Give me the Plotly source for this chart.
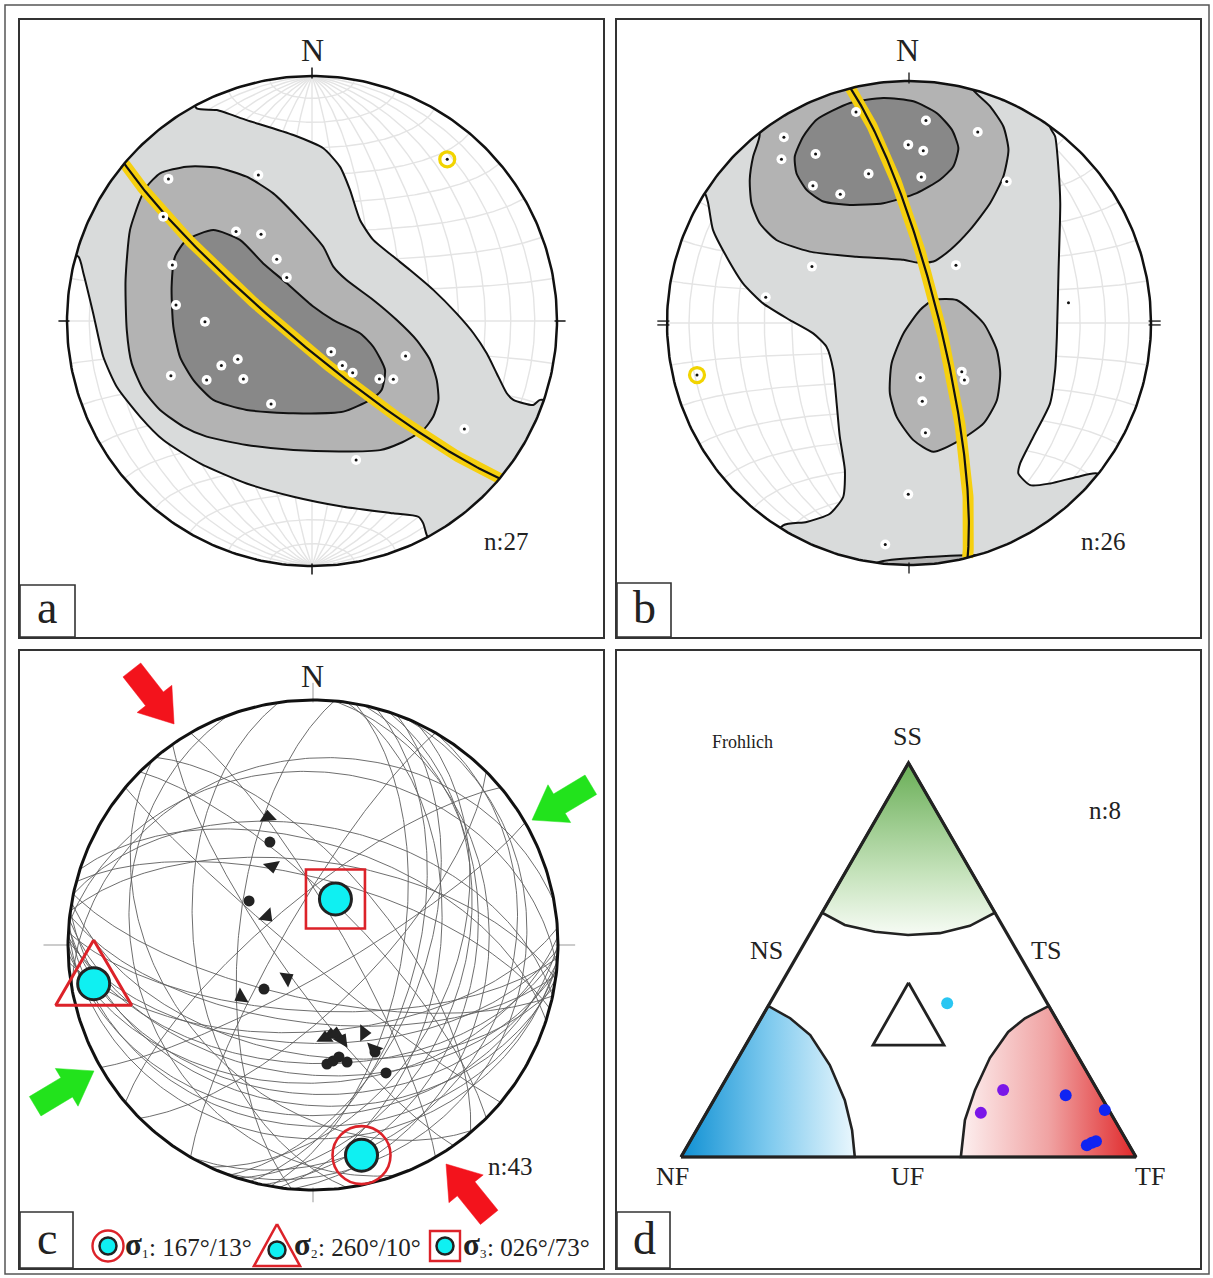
import numpy as np
import plotly.graph_objects as go

W, H = 1213, 1278
SERIF = "Liberation Serif"

# ====================== DATA ======================
# Net coordinates: equal-area, lower hemisphere, (east, north), primitive radius = 1

# ---- (a) ----
a_pole_e = [-0.586, -0.219, -0.607, -0.310, -0.208, -0.144, -0.570, -0.103, -0.555, -0.437, 0.078, 0.382,
            -0.303, -0.370, 0.124, 0.166, -0.576, -0.430, -0.280, 0.275, 0.332, -0.167, 0.622, 0.180]
a_pole_n = [0.580, 0.596, 0.426, 0.365, 0.354, 0.252, 0.229, 0.178, 0.065, -0.003, -0.125, -0.143,
            -0.156, -0.182, -0.182, -0.211, -0.223, -0.241, -0.237, -0.237, -0.238, -0.339, -0.441, -0.567]
a_max_e = [0.552]
a_max_n = [0.660]
a_plane_dipdir = [220]
a_plane_dip = [82]
a_contour1 = [(-0.52, 0.96), (-0.471, 0.868), (-0.389, 0.861), (-0.267, 0.820), (-0.076, 0.759), (0.046, 0.705),
              (0.114, 0.630), (0.155, 0.535), (0.196, 0.412), (0.250, 0.331), (0.332, 0.263), (0.400, 0.208),
              (0.495, 0.127), (0.590, 0.031), (0.659, -0.050), (0.713, -0.132), (0.754, -0.214), (0.795, -0.295),
              (0.822, -0.322), (0.903, -0.343), (0.931, -0.322), (1.06, -0.36), (0.86, -0.72), (0.53, -0.98),
              (0.468, -0.873), (0.454, -0.826), (0.434, -0.799), (0.332, -0.785), (0.128, -0.758), (-0.076, -0.717),
              (-0.267, -0.663), (-0.457, -0.581), (-0.607, -0.486), (-0.702, -0.390), (-0.797, -0.268),
              (-0.852, -0.146), (-0.893, 0.031), (-0.933, 0.195), (-0.954, 0.263), (-1.07, 0.30), (-0.95, 0.62),
              (-0.75, 0.87), (-0.52, 0.96)]
a_contour2 = [(-0.675, 0.548), (-0.620, 0.603), (-0.512, 0.630), (-0.389, 0.627), (-0.267, 0.589), (-0.158, 0.521),
              (-0.049, 0.412), (0.046, 0.303), (0.087, 0.222), (0.141, 0.167), (0.250, 0.086), (0.346, 0.004),
              (0.427, -0.078), (0.482, -0.159), (0.509, -0.241), (0.516, -0.322), (0.495, -0.390), (0.454, -0.445),
              (0.359, -0.499), (0.278, -0.527), (0.128, -0.533), (-0.076, -0.527), (-0.267, -0.506), (-0.430, -0.472),
              (-0.525, -0.431), (-0.620, -0.363), (-0.688, -0.282), (-0.736, -0.173), (-0.756, -0.037),
              (-0.761, 0.167), (-0.743, 0.371), (-0.702, 0.494), (-0.675, 0.548)]
a_contour3 = [(-0.512, 0.331), (-0.403, 0.371), (-0.294, 0.331), (-0.199, 0.235), (-0.103, 0.154), (0.005, 0.059),
              (0.087, 0.004), (0.196, -0.050), (0.250, -0.105), (0.298, -0.200), (0.284, -0.282), (0.237, -0.322),
              (0.128, -0.370), (-0.076, -0.377), (-0.267, -0.363), (-0.403, -0.322), (-0.484, -0.241),
              (-0.539, -0.146), (-0.566, -0.023), (-0.573, 0.140), (-0.559, 0.263), (-0.512, 0.331)]

# ---- (b) ----
b_pole_e = [-0.219, 0.070, -0.517, 0.284, -0.003, 0.059, -0.386, -0.527, -0.167, 0.051, 0.404, -0.397,
            -0.284, -0.401, 0.194, -0.592, 0.218, 0.229, 0.047, 0.055, 0.068, -0.003, -0.098]
b_pole_n = [0.872, 0.837, 0.768, 0.789, 0.737, 0.712, 0.698, 0.677, 0.617, 0.603, 0.585, 0.567,
            0.532, 0.233, 0.239, 0.106, -0.201, -0.236, -0.225, -0.323, -0.454, -0.708, -0.915]
b_small_e = [0.659]
b_small_n = [0.084]
b_max_e = [-0.876]
b_max_n = [-0.215]
b_plane_dipdir = [76]
b_plane_dip = [80]
b_contour1 = [(-0.844, 0.537), (-0.970, 0.618), (-0.575, 0.996), (0.0, 1.15), (0.575, 0.996), (0.671, 0.934),
              (0.583, 0.812), (0.604, 0.771), (0.618, 0.633), (0.625, 0.495), (0.618, 0.219), (0.611, -0.057),
              (0.604, -0.194), (0.583, -0.332), (0.514, -0.470), (0.459, -0.581), (0.452, -0.622), (0.501, -0.670),
              (0.583, -0.663), (0.694, -0.636), (0.777, -0.622), (0.898, -0.719), (0.575, -0.996), (0.0, -1.15),
              (-0.609, -0.975), (-0.520, -0.836), (-0.423, -0.822), (-0.327, -0.788), (-0.272, -0.719),
              (-0.265, -0.608), (-0.286, -0.470), (-0.299, -0.332), (-0.313, -0.194), (-0.341, -0.098),
              (-0.396, -0.043), (-0.492, 0.012), (-0.603, 0.081), (-0.686, 0.164), (-0.754, 0.274),
              (-0.810, 0.385), (-0.830, 0.495), (-0.844, 0.537)]
b_contour2a = [(-0.668, 0.936), (-0.617, 0.778), (-0.644, 0.688), (-0.658, 0.592), (-0.651, 0.495), (-0.617, 0.412),
               (-0.548, 0.343), (-0.410, 0.295), (-0.217, 0.274), (-0.023, 0.261), (0.032, 0.250), (0.101, 0.254),
               (0.170, 0.302), (0.252, 0.385), (0.335, 0.495), (0.390, 0.606), (0.411, 0.716), (0.390, 0.812),
               (0.335, 0.895), (0.252, 0.981), (0.286, 1.114), (0.0, 1.15), (-0.393, 1.081), (-0.668, 0.936)]
b_contour2b = [(0.101, 0.095), (0.197, 0.095), (0.308, -0.001), (0.363, -0.112), (0.377, -0.208), (0.363, -0.319),
               (0.308, -0.415), (0.211, -0.484), (0.101, -0.532), (0.018, -0.484), (-0.051, -0.388),
               (-0.079, -0.291), (-0.072, -0.167), (-0.023, -0.043), (0.046, 0.054), (0.101, 0.095)]
b_contour2c = [(-0.20, -1.10), (-0.134, -0.992), (0.032, -0.970), (0.239, -0.960), (0.377, -0.967), (0.45, -1.10),
               (-0.20, -1.10)]
b_contour3 = [(-0.382, 0.840), (-0.244, 0.909), (-0.106, 0.930), (0.018, 0.916), (0.114, 0.868), (0.177, 0.799),
              (0.204, 0.723), (0.183, 0.647), (0.128, 0.592), (0.032, 0.537), (-0.106, 0.495), (-0.244, 0.488),
              (-0.354, 0.502), (-0.423, 0.550), (-0.465, 0.619), (-0.472, 0.688), (-0.437, 0.771), (-0.382, 0.840)]

# ---- (c) ----
c_plane_dipdir = [183, 185, 180, 188, 184, 178, 186, 182, 190, 181, 176, 187, 183, 192,
                  350, 5, 12, 18, 8, 15,
                  100, 105, 110, 98, 115, 108, 95, 120, 112, 102,
                  262, 229, 250, 275,
                  60, 45, 235, 220, 50,
                  320, 300, 135, 150]
c_plane_dip = [22, 27, 31, 35, 39, 43, 46, 50, 53, 57, 61, 64, 68, 72,
               25, 30, 50, 56, 62, 68,
               60, 55, 52, 47, 42, 38, 29, 21, 15, 34,
               50, 40, 28, 65,
               80, 75, 78, 85, 65,
               75, 80, 70, 80]
c_sigma_trend = [167, 260, 26]
c_sigma_plunge = [13, 10, 73]
c_sigma_label = [": 167°/13°", ": 260°/10°", ": 026°/73°"]
c_dot_e = [-0.176, -0.261, -0.200, 0.057, 0.082, 0.106, 0.139, 0.253, 0.298]
c_dot_n = [0.420, 0.180, -0.180, -0.486, -0.473, -0.457, -0.478, -0.437, -0.522]
c_slip_e = [-0.184, -0.167, -0.188, -0.294, -0.106, 0.049, 0.073, 0.094, 0.118, 0.208, 0.249]
c_slip_n = [0.522, 0.322, 0.118, -0.212, -0.135, -0.380, -0.367, -0.363, -0.388, -0.359, -0.424]
c_slip_dir = [-5, 170, 135, 240, 60, 0, 0, 5, 30, 90, 200]
c_arrow_tip_e = [-0.567, 0.543, 0.894, -0.894]
c_arrow_tip_n = [0.902, -0.894, 0.510, -0.514]
c_arrow_trend = [142, 321, 239, 59]
c_arrow_color = ["#f3131c", "#f3131c", "#22e31c", "#22e31c"]

# ---- (d) Frohlich ternary: fractions (SS, TF, NF) ----
d_ss = [0.39, 0.170, 0.112, 0.157, 0.119, 0.030, 0.036, 0.040]
d_tf = [0.39, 0.623, 0.603, 0.767, 0.872, 0.877, 0.885, 0.892]
d_color = ["#2ac6f2", "#7a17e8", "#7a17e8", "#1024f2", "#1024f2", "#1024f2", "#1024f2", "#1024f2"]
# field boundaries (triangle units: NF=(0,0), TF=(1,0), SS=(0.5,0.866))
d_ss_field = [(0.5, 0.866), (0.310, 0.537), (0.360, 0.510), (0.426, 0.495), (0.499, 0.488), (0.569, 0.492),
              (0.635, 0.508), (0.690, 0.537), (0.5, 0.866)]
d_nf_field = [(0.0, 0.0), (0.1917, 0.332), (0.240, 0.305), (0.284, 0.268), (0.327, 0.202), (0.360, 0.125),
              (0.376, 0.059), (0.382, 0.0), (0.0, 0.0)]
d_tf_field = [(1.0, 0.0), (0.8085, 0.332), (0.756, 0.305), (0.719, 0.275), (0.679, 0.218), (0.646, 0.147),
              (0.624, 0.081), (0.615, 0.0), (1.0, 0.0)]
d_center_tri = [(0.5, 0.383), (0.422, 0.246), (0.578, 0.246), (0.5, 0.383)]

# ====================== LAYOUT CONSTANTS (pixels) ======================
panels = {
    "a": dict(box=(20, 20, 603, 637), c=(312, 321), r=245),
    "b": dict(box=(617, 20, 1200, 637), c=(909, 323), r=242),
    "c": dict(box=(20, 651, 603, 1268), c=(313, 945), r=245),
    "d": dict(box=(617, 651, 1200, 1268), c=(681, 1157), r=455),
}
axis_ids = {"a": "", "b": "2", "c": "3", "d": "4"}


def P(px, py):
    return px / W, 1 - py / H


# ====================== HELPERS ======================
def proj_line(trend, plunge):
    t = np.radians(np.asarray(trend, float))
    p = np.radians(np.asarray(plunge, float))
    R = np.sqrt(2) * np.sin((np.pi / 2 - p) / 2)
    return R * np.sin(t), R * np.cos(t)


def great_circle(dipdir, dip, n=181):
    dd, d = np.radians(dipdir), np.radians(dip)
    st = dd - np.pi / 2
    s = np.array([np.sin(st), np.cos(st), 0.0])
    dv = np.array([np.sin(dd) * np.cos(d), np.cos(dd) * np.cos(d), -np.sin(d)])
    b = np.linspace(0, np.pi, n)
    v = np.outer(np.cos(b), s) + np.outer(np.sin(b), dv)
    k = 1 / np.sqrt(1 - v[:, 2])
    return v[:, 0] * k, v[:, 1] * k


def small_circle_ns(alpha, n=181):
    a = np.radians(alpha)
    phi = np.linspace(0, np.pi, n)
    x = np.sin(a) * np.cos(phi)
    y = np.full_like(phi, np.cos(a))
    z = -np.sin(a) * np.sin(phi)
    k = 1 / np.sqrt(1 - z)
    return x * k, y * k


def join(segs):
    xs, ys = [], []
    for x, y in segs:
        xs += list(x) + [None]
        ys += list(y) + [None]
    return xs, ys


def unzip(pts):
    return [p[0] for p in pts], [p[1] for p in pts]


def ranges(key):
    p = panels[key]
    x0, y0, x1, y1 = p["box"]
    cx, cy = p["c"]
    r = p["r"]
    return [(x0 - cx) / r, (x1 - cx) / r], [(cy - y1) / r, (cy - y0) / r]


fig = go.Figure()


def add(tr, key):
    s = axis_ids[key]
    tr.update(xaxis="x" + s, yaxis="y" + s, showlegend=False, hoverinfo="skip")
    fig.add_trace(tr)


th = np.linspace(0, 2 * np.pi, 361)
circ_x, circ_y = np.cos(th), np.sin(th)


def net_grid(key):
    segs = []
    for d in range(10, 90, 10):
        segs.append(great_circle(90, d))
        segs.append(great_circle(270, d))
    segs.append(great_circle(90, 90))
    for a in range(10, 180, 10):
        segs.append(small_circle_ns(a))
    gx, gy = join(segs)
    add(go.Scatter(x=gx, y=gy, mode="lines", line=dict(color="#e4e4e4", width=1.4)), key)


def mask(key):
    xr, yr = ranges(key)
    rx = [xr[0], xr[0], xr[1], xr[1], xr[0]]
    ry = [yr[0], yr[1], yr[1], yr[0], yr[0]]
    mx = rx + [1.0] + list(circ_x) + [xr[0]]
    my = ry + [0.0] + list(circ_y) + [yr[0]]
    add(go.Scatter(x=mx, y=my, mode="lines", fill="toself", fillcolor="white",
                   line=dict(width=0, color="white")), key)


def contour(pts, color, key):
    x, y = unzip(pts)
    add(go.Scatter(x=x, y=y, mode="lines", fill="toself", fillcolor=color,
                   line=dict(color="#111", width=2, shape="spline", smoothing=0.6)), key)


def primitive(key, width=2.5):
    add(go.Scatter(x=circ_x, y=circ_y, mode="lines", line=dict(color="#111", width=width)), key)


def ticks(key, segs, color, width):
    tx, ty = join(segs)
    add(go.Scatter(x=tx, y=ty, mode="lines", line=dict(color=color, width=width)), key)


def fault_plane(dipdir, dip, key):
    gx, gy = great_circle(dipdir, dip)
    add(go.Scatter(x=gx, y=gy, mode="lines", line=dict(color="#f6d00f", width=11)), key)
    add(go.Scatter(x=gx, y=gy, mode="lines", line=dict(color="#111", width=2.2)), key)


def poles(e, n, key):
    add(go.Scatter(x=e, y=n, mode="markers", marker=dict(color="white", size=10, line=dict(width=0))), key)
    add(go.Scatter(x=e, y=n, mode="markers", marker=dict(color="#111", size=3)), key)


def maxpole(e, n, key):
    add(go.Scatter(x=e, y=n, mode="markers",
                   marker=dict(symbol="circle-open", color="#f2d400", size=15, line=dict(width=3.2))), key)
    add(go.Scatter(x=e, y=n, mode="markers", marker=dict(color="#111", size=3)), key)


# ---------------- panel a ----------------
net_grid("a")
contour(a_contour1, "#d9dbdb", "a")
contour(a_contour2, "#b3b3b3", "a")
contour(a_contour3, "#888888", "a")
mask("a")
fault_plane(a_plane_dipdir[0], a_plane_dip[0], "a")
poles(a_pole_e, a_pole_n, "a")
maxpole(a_max_e, a_max_n, "a")
primitive("a")
ticks("a", [([0, 0], [0.99, 1.035]), ([0, 0], [-0.99, -1.035]),
            ([0.99, 1.035], [0, 0]), ([-0.99, -1.035], [0, 0])], "#111", 1.5)

# ---------------- panel b ----------------
net_grid("b")
contour(b_contour1, "#d9dbdb", "b")
contour(b_contour2a, "#b3b3b3", "b")
contour(b_contour2b, "#b3b3b3", "b")
contour(b_contour2c, "#b3b3b3", "b")
contour(b_contour3, "#888888", "b")
mask("b")
fault_plane(b_plane_dipdir[0], b_plane_dip[0], "b")
poles(b_pole_e, b_pole_n, "b")
add(go.Scatter(x=b_small_e, y=b_small_n, mode="markers", marker=dict(color="#111", size=3)), "b")
maxpole(b_max_e, b_max_n, "b")
primitive("b")
ticks("b", [([0, 0], [0.99, 1.035]), ([0, 0], [-0.99, -1.035]),
            ([0.99, 1.04], [0.008, 0.008]), ([0.99, 1.04], [-0.008, -0.008]),
            ([-0.99, -1.04], [0.008, 0.008]), ([-0.99, -1.04], [-0.008, -0.008])], "#111", 1.3)

# ---------------- panel c ----------------
gc = [great_circle(dd, dp) for dd, dp in zip(c_plane_dipdir, c_plane_dip)]
gx, gy = join(gc)
add(go.Scatter(x=gx, y=gy, mode="lines", line=dict(color="#5e5e5e", width=0.9)), "c")
ticks("c", [([0, 0], [0.99, 1.07]), ([0, 0], [-0.99, -1.05]),
            ([0.99, 1.07], [0, 0]), ([-0.99, -1.1], [0, 0])], "#999", 1)
primitive("c", width=3)
add(go.Scatter(x=c_dot_e, y=c_dot_n, mode="markers", marker=dict(color="#222", size=11)), "c")
add(go.Scatter(x=c_slip_e, y=c_slip_n, mode="markers",
               marker=dict(symbol="triangle-up", color="#222", size=15, angle=c_slip_dir)), "c")

sx, sy = proj_line(c_sigma_trend, c_sigma_plunge)
RED = "#dc2229"
CYAN = "#0ff0f2"
add(go.Scatter(x=[sx[0]], y=[sy[0]], mode="markers",
               marker=dict(symbol="circle-open", size=58, color=RED, line=dict(width=2.6))), "c")
add(go.Scatter(x=[sx[1], sx[1] - 0.155, sx[1] + 0.155, sx[1]],
               y=[sy[1] + 0.178, sy[1] - 0.088, sy[1] - 0.088, sy[1] + 0.178],
               mode="lines", line=dict(color=RED, width=3)), "c")
add(go.Scatter(x=[sx[2]], y=[sy[2]], mode="markers",
               marker=dict(symbol="square-open", size=59, color=RED, line=dict(width=2.6))), "c")
add(go.Scatter(x=list(sx), y=list(sy), mode="markers",
               marker=dict(color=CYAN, size=32, line=dict(color="#222", width=3))), "c")

for tx, ty, tr, col in zip(c_arrow_tip_e, c_arrow_tip_n, c_arrow_trend, c_arrow_color):
    u = np.array([np.sin(np.radians(tr)), np.cos(np.radians(tr))])
    v = np.array([-u[1], u[0]])
    T = np.array([tx, ty])
    L, hl, hw, sw = 0.28, 0.13, 0.09, 0.046
    pts = [T, T - hl * u + hw * v, T - hl * u + sw * v, T - L * u + sw * v,
           T - L * u - sw * v, T - hl * u - sw * v, T - hl * u - hw * v, T]
    add(go.Scatter(x=[p[0] for p in pts], y=[p[1] for p in pts], mode="lines", fill="toself",
                   fillcolor=col, line=dict(color=col, width=0.5)), "c")

pc = panels["c"]


def to_c(px, py):
    return (px - pc["c"][0]) / pc["r"], (pc["c"][1] - py) / pc["r"]


l1 = to_c(108, 1246)
l2 = to_c(277, 1250)
l3 = to_c(445, 1246)
add(go.Scatter(x=[l1[0]], y=[l1[1]], mode="markers",
               marker=dict(symbol="circle-open", size=31, color=RED, line=dict(width=2.4))), "c")
tri = [to_c(277, 1224), to_c(254, 1266), to_c(300, 1266), to_c(277, 1224)]
add(go.Scatter(x=[t[0] for t in tri], y=[t[1] for t in tri], mode="lines",
               line=dict(color=RED, width=2.6)), "c")
add(go.Scatter(x=[l3[0]], y=[l3[1]], mode="markers",
               marker=dict(symbol="square-open", size=30, color=RED, line=dict(width=2.4))), "c")
add(go.Scatter(x=[l1[0], l2[0], l3[0]], y=[l1[1], l2[1], l3[1]], mode="markers",
               marker=dict(color=CYAN, size=17, line=dict(color="#222", width=2.5))), "c")


# ---------------- panel d ----------------
def field(pts, gtype, start, stop, cs):
    x, y = unzip(pts)
    add(go.Scatter(x=x, y=y, mode="lines", fill="toself",
                   fillgradient=dict(type=gtype, start=start, stop=stop, colorscale=cs),
                   line=dict(color="#222", width=2.6)), "d")


field(d_ss_field, "vertical", 0.49, 0.866, [[0, "#f6fbf4"], [0.35, "#c6e3bc"], [1, "#69ae56"]])
field(d_nf_field, "horizontal", 0.0, 0.382, [[0, "#0f90d3"], [0.5, "#7dc9ee"], [1, "#eaf7fd"]])
field(d_tf_field, "horizontal", 0.615, 1.0, [[0, "#fdf0f0"], [0.5, "#f0a3a3"], [1, "#e0282a"]])
h = np.sqrt(3) / 2
add(go.Scatter(x=[0, 1, 0.5, 0], y=[0, 0, h, 0], mode="lines", line=dict(color="#222", width=3.2)), "d")
ctx, cty = unzip(d_center_tri)
add(go.Scatter(x=ctx, y=cty, mode="lines", line=dict(color="#222", width=2.8)), "d")
dx = [tf + ss / 2 for ss, tf in zip(d_ss, d_tf)]
dy = [ss * h for ss in d_ss]
add(go.Scatter(x=dx, y=dy, mode="markers", marker=dict(color=d_color, size=12)), "d")

# ====================== AXES ======================
layout_axes = {}
for key, s in axis_ids.items():
    x0, y0, x1, y1 = panels[key]["box"]
    xr, yr = ranges(key)
    common = dict(showgrid=False, zeroline=False, showticklabels=False, ticks="",
                  showline=True, mirror=True, linecolor="#333", linewidth=1.6, fixedrange=True)
    layout_axes["xaxis" + s] = dict(domain=[x0 / W, x1 / W], range=xr, anchor="y" + s, **common)
    layout_axes["yaxis" + s] = dict(domain=[1 - y1 / H, 1 - y0 / H], range=yr, anchor="x" + s, **common)

fig.update_layout(width=W, height=H, margin=dict(l=0, r=0, t=0, b=0),
                  paper_bgcolor="white", plot_bgcolor="white", showlegend=False, **layout_axes)

# ====================== SHAPES & TEXT ======================
shapes = []


def rect(x0, y0, x1, y1, fill="white", lw=1.6, color="#333"):
    a0, b0 = P(x0, y0)
    a1, b1 = P(x1, y1)
    shapes.append(dict(type="rect", xref="paper", yref="paper", x0=a0, y0=b1, x1=a1, y1=b0,
                       line=dict(color=color, width=lw), fillcolor=fill, layer="above"))


rect(5, 5, 1209, 1274, fill="rgba(0,0,0,0)", lw=1.5, color="#555")
rect(20, 585, 75, 637)
rect(617, 583, 671, 637)
rect(20, 1212, 73, 1268)
rect(617, 1212, 670, 1268)

ann = []


def text(px, py, t, size, anchor="center", color="#222"):
    x, y = P(px, py)
    ann.append(dict(x=x, y=y, xref="paper", yref="paper", text=t, showarrow=False,
                    xanchor=anchor, yanchor="middle", font=dict(family=SERIF, size=size, color=color)))


text(312, 50, "N", 32)
text(907, 50, "N", 32)
text(312, 676, "N", 32)
text(506, 541, "n:27", 25)
text(1103, 541, "n:26", 25)
text(510, 1166, "n:43", 25)
text(1105, 810, "n:8", 25)
text(47, 607, "a", 46)
text(644, 607, "b", 46)
text(47, 1238, "c", 46)
text(644, 1238, "d", 46)
text(908, 736, "SS", 26)
text(766, 950, "NS", 26)
text(1046, 950, "TS", 26)
text(672, 1176, "NF", 26)
text(908, 1176, "UF", 26)
text(1150, 1176, "TF", 26)
text(742, 742, "Frohlich", 18)
for i, (xp, lab) in enumerate(zip([123, 292, 461], c_sigma_label)):
    text(xp, 1244, "<b>σ</b>", 31, anchor="left")
    text(xp + 17, 1253, str(i + 1), 13, anchor="left")
    text(xp + 24, 1247, lab, 25, anchor="left")

fig.update_layout(shapes=shapes, annotations=ann)
fig.write_html("out.html", config={"displayModeBar": False},
               post_script="document.body.style.margin='0px';")
